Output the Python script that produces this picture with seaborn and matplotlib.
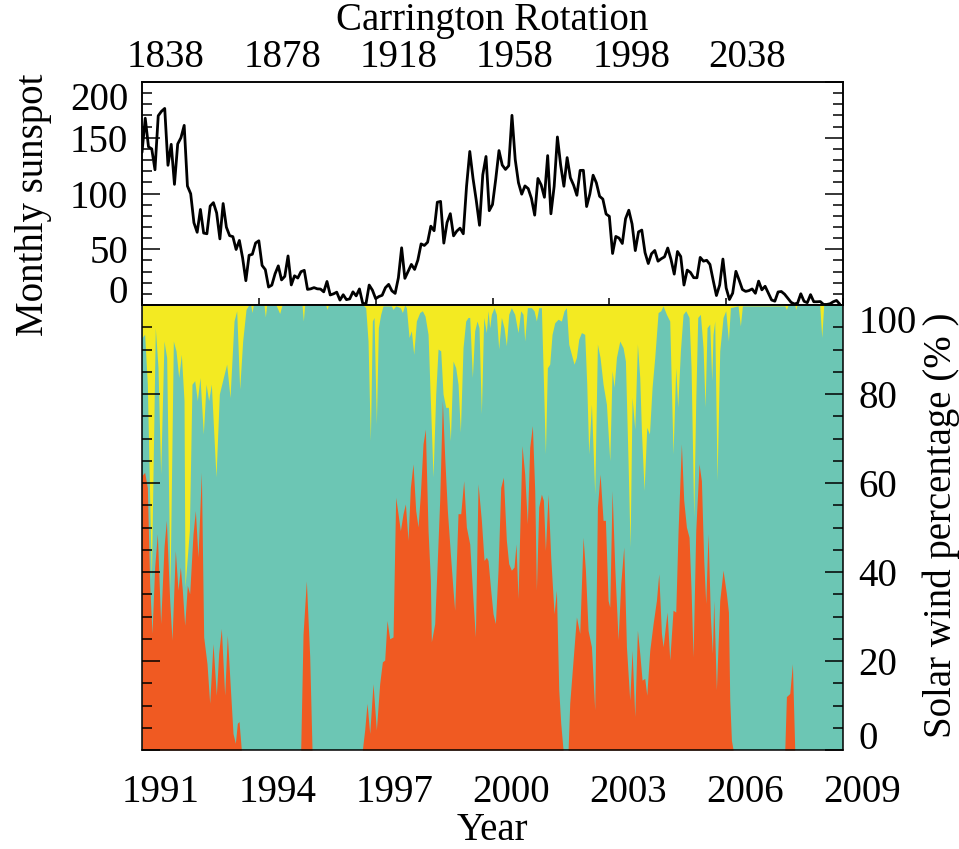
import numpy as np
import pandas as pd
import matplotlib
matplotlib.use("Agg")
import matplotlib.pyplot as plt
import matplotlib.transforms as mtransforms
from matplotlib.ticker import MultipleLocator
import seaborn as sns

# ---------------- data ----------------
# Monthly sunspot number, Jan 1991 .. Dec 2008
ssn_1991 = [136.9, 167.5, 141.9, 140.0, 121.3, 169.7, 173.7, 176.3, 125.3, 144.1, 108.2, 144.4]
ssn_1992 = [150.0, 161.1, 106.7, 99.8, 73.8, 65.2, 85.7, 64.5, 63.9, 88.7, 91.8, 82.6]
ssn_1993 = [59.3, 91.0, 69.8, 62.2, 61.3, 49.8, 57.9, 42.3, 21.8, 44.6, 45.5, 55.6]
ssn_1994 = [57.6, 35.5, 31.7, 16.1, 17.8, 28.0, 35.1, 22.5, 25.7, 44.0, 18.0, 26.2]
ssn_1995 = [24.2, 29.9, 31.1, 14.0, 14.5, 15.6, 14.5, 14.3, 11.8, 21.1, 9.0, 10.0]
ssn_1996 = [11.5, 4.4, 9.2, 4.8, 5.5, 11.8, 8.2, 14.4, 1.6, 0.9, 17.9, 13.3]
ssn_1997 = [5.7, 7.6, 8.7, 15.5, 18.5, 12.7, 10.4, 24.4, 51.3, 23.9, 30.2, 36.4]
ssn_1998 = [31.9, 40.3, 54.8, 53.4, 56.3, 70.7, 66.6, 92.2, 92.9, 55.5, 74.0, 81.9]
ssn_1999 = [62.0, 66.3, 68.9, 63.9, 106.4, 137.7, 113.5, 93.7, 71.5, 116.7, 133.2, 84.6]
ssn_2000 = [90.1, 112.9, 138.5, 125.5, 121.6, 124.9, 170.1, 130.5, 109.7, 99.4, 106.8, 104.4]
ssn_2001 = [95.6, 80.6, 113.5, 107.7, 96.6, 134.0, 81.8, 106.4, 150.7, 125.5, 106.5, 132.2]
ssn_2002 = [114.1, 107.4, 98.4, 120.7, 120.8, 88.3, 99.6, 116.4, 109.6, 97.5, 95.0, 81.6]
ssn_2003 = [79.5, 46.2, 61.5, 60.0, 55.2, 77.4, 85.0, 72.7, 48.8, 65.6, 67.2, 47.0]
ssn_2004 = [37.2, 46.0, 48.9, 39.3, 41.5, 43.2, 51.1, 40.9, 27.7, 48.0, 43.5, 17.9]
ssn_2005 = [31.3, 29.2, 24.5, 24.4, 42.7, 39.3, 40.1, 36.4, 22.1, 8.5, 18.0, 41.2]
ssn_2006 = [15.3, 4.9, 10.6, 30.2, 22.3, 13.9, 12.2, 12.9, 14.4, 10.5, 21.4, 13.6]
ssn_2007 = [16.8, 10.7, 4.5, 3.4, 11.7, 12.1, 9.7, 6.0, 2.4, 0.9, 1.7, 10.1]
ssn_2008 = [3.3, 2.1, 9.3, 2.9, 2.9, 3.1, 0.5, 0.5, 1.1, 2.9, 4.1, 0.8]
ssn_first_year = 1991

# Solar wind percentage: bottom (orange) component, read per vertex
orange_year = [1991.000, 1991.068, 1991.137, 1991.197, 1991.257, 1991.325, 1991.394, 1991.479,
               1991.565, 1991.625, 1991.711, 1991.770, 1991.856, 1991.925, 1991.984, 1992.036,
               1992.096, 1992.164, 1992.224, 1992.310, 1992.370, 1992.438, 1992.524, 1992.584,
               1992.669, 1992.738, 1992.823, 1992.909, 1992.969, 1993.037, 1993.123, 1993.191,
               1993.277, 1993.337, 1993.397, 1993.448, 1993.491, 1993.551,
               1995.075, 1995.135, 1995.220, 1995.306, 1995.366,
               1996.658, 1996.718, 1996.778, 1996.847, 1996.932, 1997.018, 1997.103, 1997.172,
               1997.232, 1997.292, 1997.360, 1997.446, 1997.514, 1997.574, 1997.634, 1997.703,
               1997.763, 1997.831, 1997.891, 1997.959, 1998.028, 1998.088, 1998.148, 1998.216,
               1998.276, 1998.345, 1998.405, 1998.430, 1998.516, 1998.576, 1998.644, 1998.713,
               1998.773, 1998.841, 1998.918, 1998.987, 1999.029, 1999.115, 1999.184, 1999.260,
               1999.329, 1999.415, 1999.500, 1999.560, 1999.629, 1999.714, 1999.783, 1999.843,
               1999.885, 1999.954, 2000.014, 2000.074, 2000.142, 2000.211, 2000.279, 2000.356,
               2000.416, 2000.484, 2000.553, 2000.604, 2000.655, 2000.707, 2000.758, 2000.827,
               2000.895, 2000.955, 2001.024, 2001.084, 2001.127, 2001.187, 2001.255, 2001.307,
               2001.358, 2001.427, 2001.495, 2001.581, 2001.641, 2001.701, 2001.752, 2001.812,
               2001.941, 2001.983, 2002.069, 2002.155, 2002.240, 2002.326, 2002.386, 2002.454,
               2002.540, 2002.625, 2002.694, 2002.762, 2002.839, 2002.899, 2002.968, 2003.011,
               2003.071, 2003.139, 2003.225, 2003.293, 2003.370, 2003.439, 2003.524, 2003.584,
               2003.653, 2003.721, 2003.781, 2003.841, 2003.909, 2003.961, 2004.038, 2004.124,
               2004.209, 2004.269, 2004.338, 2004.380, 2004.482, 2004.551, 2004.636, 2004.705,
               2004.765, 2004.850, 2004.910, 2004.979, 2005.047, 2005.099, 2005.150, 2005.219,
               2005.304, 2005.364, 2005.424, 2005.475, 2005.535, 2005.595, 2005.646, 2005.681,
               2005.749, 2005.835, 2005.920, 2006.006, 2006.058, 2006.092, 2006.135, 2006.178,
               2007.505, 2007.547, 2007.633, 2007.701, 2007.761, 2009.000]
orange_pct = [61.7, 62.4, 59.0, 37.4, 26.2, 41.1, 48.6, 28.4,
              45.6, 51.6, 33.6, 24.7, 44.8, 35.9, 41.1, 35.9,
              28.0, 37.0, 35.1, 48.6, 53.8, 43.3, 62.4, 25.4,
              19.4, 10.5, 23.9, 12.3, 21.7, 27.3, 12.3, 25.8,
              12.7, 3.7, 1.5, 6.0, 6.4, 0.0,
              0.0, 26.0, 38.0, 21.0, 0.0,
              0.0, 4.5, 10.5, 3.7, 14.9, 4.5, 14.9, 19.8,
              20.2, 29.1, 25.0, 25.4, 56.8, 53.1, 49.3, 53.1,
              55.3, 47.1, 59.0, 64.3, 53.8, 50.1, 57.5, 68.8,
              72.1, 49.3, 38.1, 24.3, 28.4, 41.1, 56.1, 78.5,
              65.8, 53.8, 44.1, 35.9, 31.4, 53.1, 53.1, 60.5,
              50.1, 46.3, 33.6, 25.4, 59.8, 51.6, 42.6, 43.3,
              42.6, 35.9, 30.6, 28.4, 40.4, 59.0, 61.3, 47.1,
              41.9, 40.4, 41.1, 46.3, 34.0, 51.6, 68.4, 62.0,
              50.8, 68.0, 72.9, 58.3, 35.9, 54.6, 57.5, 56.1,
              44.8, 57.5, 43.3, 30.6, 35.9, 13.5, 6.0, 0.0,
              0.0, 10.5, 20.2, 29.9, 26.2, 47.8, 40.4, 26.9,
              23.2, 9.0, 54.6, 62.0, 51.6, 51.6, 33.6, 32.1,
              58.3, 41.1, 24.7, 37.4, 45.6, 23.2, 11.2, 22.4,
              7.5, 26.9, 21.7, 15.7, 16.1, 12.3, 22.4, 28.4,
              33.6, 39.6, 26.2, 23.2, 31.0, 20.2, 31.4, 31.0,
              49.3, 68.8, 56.1, 50.1, 47.8, 35.9, 20.9, 49.3,
              64.3, 60.5, 42.6, 32.9, 48.6, 29.9, 21.7, 33.6,
              13.5, 33.6, 40.4, 35.1, 31.0, 11.2, 2.2, 0.0,
              0.0, 12.0, 12.7, 19.4, 0.0, 0.0]

# Solar wind percentage: top (yellow) component, read per vertex
yellow_year = [1991.000, 1991.068, 1991.137, 1991.240, 1991.342, 1991.411, 1991.479, 1991.565,
               1991.633, 1991.719, 1991.805, 1991.873, 1991.942, 1992.010, 1992.079, 1992.104,
               1992.216, 1992.284, 1992.353, 1992.421, 1992.489, 1992.575, 1992.644, 1992.712,
               1992.780, 1992.900, 1992.986, 1993.089, 1993.174, 1993.260, 1993.363, 1993.431,
               1993.508, 1993.585, 1993.671, 1993.739, 1993.791, 1993.825, 1993.859, 1994.133,
               1994.167, 1994.202, 1994.441, 1994.535, 1994.595, 1995.109, 1995.143, 1995.177,
               1995.717, 1995.751, 1995.785,
               1996.675, 1996.744, 1996.804, 1996.864, 1996.915, 1996.958, 1997.018, 1997.069,
               1997.129, 1997.189, 1997.403, 1997.446, 1997.514, 1997.634, 1997.686, 1997.746,
               1997.789, 1997.857, 1997.917, 1997.977, 1998.045, 1998.131, 1998.199, 1998.268,
               1998.345, 1998.405, 1998.473, 1998.542, 1998.602, 1998.670, 1998.730, 1998.799,
               1998.867, 1998.918, 1998.987, 1999.055, 1999.115, 1999.175, 1999.243, 1999.312,
               1999.372, 1999.415, 1999.483, 1999.543, 1999.603, 1999.654, 1999.714, 1999.774,
               1999.843, 1999.885, 1999.928, 1999.971, 2000.040, 2000.099, 2000.159, 2000.228,
               2000.296, 2000.356, 2000.416, 2000.484, 2000.570, 2000.655, 2000.724, 2000.784,
               2000.827, 2000.895, 2000.998, 2001.067, 2001.127, 2001.187, 2001.255, 2001.298,
               2001.358, 2001.409, 2001.469, 2001.529, 2001.598, 2001.683, 2001.769, 2001.837,
               2001.897, 2001.957, 2002.026, 2002.094, 2002.154, 2002.214, 2002.283, 2002.368,
               2002.420, 2002.471, 2002.540, 2002.625, 2002.694, 2002.762, 2002.839, 2002.925,
               2003.011, 2003.071, 2003.122, 2003.182, 2003.268, 2003.353, 2003.413, 2003.482,
               2003.533, 2003.584, 2003.653, 2003.721, 2003.781, 2003.824, 2003.893, 2003.961,
               2004.030, 2004.098, 2004.166, 2004.252, 2004.321, 2004.380, 2004.466, 2004.551,
               2004.636, 2004.705, 2004.756, 2004.825, 2004.893, 2004.962, 2005.047, 2005.099,
               2005.167, 2005.219, 2005.270, 2005.338, 2005.407, 2005.458, 2005.509, 2005.578,
               2005.629, 2005.663, 2005.706, 2005.766, 2005.835, 2005.920, 2005.989, 2006.058,
               2006.109, 2006.305, 2006.365, 2006.417, 2007.505, 2007.547, 2007.590, 2007.761,
               2007.787, 2007.821, 2008.403, 2008.454, 2008.505, 2009.000]
yellow_pct = [7.3, 6.6, 17.8, 61.9, 5.1, 14.1, 38.0, 8.1,
              11.8, 64.0, 8.1, 10.3, 16.3, 11.1, 21.5, 63.4,
              50.7, 17.8, 17.0, 21.5, 16.3, 29.0, 17.8, 21.5,
              17.8, 38.7, 20.0, 16.3, 13.3, 20.8, 3.6, 1.3,
              18.9, 8.1, 1.0, 0.0, 0.0, 1.7, 0.0, 0.0,
              2.7, 0.0, 0.0, 1.9, 0.0, 0.0, 3.6, 0.0,
              0.0, 1.0, 0.0,
              0.0, 0.6, 8.1, 30.5, 3.6, 2.8, 26.8, 5.1,
              2.1, 0.2, 0.2, 1.0, 0.2, 0.6, 1.7, 0.0,
              0.6, 7.3, 5.8, 11.1, 3.6, 1.7, 1.3, 2.5,
              6.6, 21.5, 38.7, 20.0, 9.9, 10.3, 20.0, 23.0,
              23.0, 30.5, 12.6, 14.1, 17.8, 28.6, 9.6, 3.6,
              2.8, 2.8, 16.3, 5.8, 3.6, 5.1, 24.5, 2.8,
              6.2, 1.3, 5.1, 2.1, 0.6, 2.1, 9.9, 2.8,
              5.1, 9.2, 2.1, 0.6, 2.1, 6.2, 1.3, 2.1,
              8.1, 0.6, 0.6, 1.3, 3.6, 0.6, 0.6, 14.1,
              33.5, 14.1, 13.3, 6.6, 4.0, 3.2, 3.6, 1.3,
              0.6, 8.8, 11.1, 13.3, 11.8, 7.7, 6.2, 6.6,
              17.8, 33.5, 22.3, 42.5, 8.8, 11.8, 17.8, 22.3,
              35.0, 14.8, 18.5, 11.8, 8.1, 9.6, 12.6, 35.7,
              54.4, 20.8, 27.9, 8.8, 16.3, 28.3, 41.7, 27.5,
              29.0, 18.5, 11.8, 1.7, 1.3, 0.2, 2.1, 3.6,
              33.5, 14.1, 23.0, 10.3, 2.1, 1.3, 2.8, 14.1,
              47.7, 21.5, 2.8, 2.1, 9.6, 23.0, 5.1, 4.3,
              17.0, 6.6, 3.6, 39.5, 10.3, 2.8, 1.3, 8.1,
              0.6, 0.2, 4.7, 0.2, 0.2, 1.0, 0.0, 0.0,
              1.0, 0.0, 0.0, 7.3, 0.0, 0.0]

year_ticks = [1991, 1994, 1997, 2000, 2003, 2006, 2009]
cr_ticks = [1838, 1878, 1918, 1958, 1998, 2038]
ssn_ticks = [0, 50, 100, 150, 200]
pct_ticks = [0, 20, 40, 60, 80, 100]

# Carrington rotation <-> decimal year (CR 2000 began 2003 Feb 4; 27.2753 d per rotation)
CR_REF, CR_REF_YEAR, CR_LEN_YR = 2000, 2003.094, 27.2753 / 365.25
def year_to_cr(y):
    return CR_REF + (np.asarray(y) - CR_REF_YEAR) / CR_LEN_YR

ssn = (ssn_1991 + ssn_1992 + ssn_1993 + ssn_1994 + ssn_1995 + ssn_1996 + ssn_1997 + ssn_1998 +
       ssn_1999 + ssn_2000 + ssn_2001 + ssn_2002 + ssn_2003 + ssn_2004 + ssn_2005 + ssn_2006 +
       ssn_2007 + ssn_2008)
ssn_df = pd.DataFrame({"year": ssn_first_year + np.arange(len(ssn)) / 12.0, "ssn": ssn})

# ---------------- style ----------------
sns.set_style("ticks")
plt.rcParams['font.family'] = ['Liberation Serif', 'DejaVu Serif']
plt.rcParams['font.size'] = 28
plt.rcParams['axes.linewidth'] = 1.1
for key in ['text.color', 'axes.labelcolor', 'xtick.color', 'ytick.color',
            'axes.edgecolor', 'xtick.labelcolor', 'ytick.labelcolor']:
    plt.rcParams[key] = 'black'

ORANGE = '#F05A22'
TEAL = '#6CC6B4'
YELLOW = '#F3EA22'

W, H = 959, 849
fig = plt.figure(figsize=(W / 100, H / 100), dpi=100)

def rect(x0, y0, x1, y1):
    return [x0 / W, 1 - y1 / H, (x1 - x0) / W, (y1 - y0) / H]

ax1 = fig.add_axes(rect(142, 82, 843, 305))
ax2 = fig.add_axes(rect(142, 305, 843, 750))

def shift_text(texts, dx_px=0, dy_px=0):
    off = mtransforms.ScaledTranslation(dx_px / 100, dy_px / 100, fig.dpi_scale_trans)
    for t in texts:
        t.set_transform(t.get_transform() + off)

# ---------------- top panel: sunspot ----------------
sns.lineplot(data=ssn_df, x="year", y="ssn", ax=ax1, color='black', lw=2.0)
ax1.set_xlim(year_ticks[0], year_ticks[-1])
ax1.set_ylim(ssn_ticks[0], ssn_ticks[-1])
ax1.set_xlabel("")
ax1.set_ylabel("Monthly sunspot", fontsize=28)
ax1.yaxis.set_label_coords(-0.155, 0.45)
ax1.yaxis.label.set_va('center')
ax1.set_yticks(ssn_ticks)
ax1.yaxis.set_minor_locator(MultipleLocator(10))
ax1.set_xticks(year_ticks)
ax1.tick_params(axis='x', which='major', direction='in', top=True, bottom=True,
                length=5, width=1.1, labelbottom=False, labeltop=False)
ax1.tick_params(axis='y', which='major', direction='in', left=True, right=True,
                length=13, width=1.1, labelsize=28, pad=10)
ax1.tick_params(axis='y', which='minor', direction='in', left=True, right=True,
                length=7, width=1.1)
for sp in ax1.spines.values():
    sp.set_visible(True)
    sp.set_linewidth(1.1)

# top axis: Carrington rotation
axcr = ax1.twiny()
axcr.set_xlim(year_to_cr(year_ticks[0]), year_to_cr(year_ticks[-1]))
axcr.set_xticks(cr_ticks)
axcr.set_xticklabels([str(c) for c in cr_ticks])
axcr.tick_params(axis='x', which='both', length=0, labelsize=28, pad=4,
                 top=True, bottom=False, labeltop=True, labelbottom=False)
axcr.set_xlabel("Carrington Rotation", fontsize=28)
axcr.xaxis.set_label_coords(0.5, 1.275)
axcr.xaxis.label.set_va('center')

# ---------------- bottom panel: solar wind percentage ----------------
ax2.set_facecolor(TEAL)
ax2.fill_between(orange_year, 0, orange_pct, color=ORANGE, lw=0)
ax2.fill_between(yellow_year, 100 - np.asarray(yellow_pct), 100, color=YELLOW, lw=0)
ax2.set_xlim(year_ticks[0], year_ticks[-1])
ax2.set_ylim(pct_ticks[0], pct_ticks[-1])
ax2.set_xticks(year_ticks)
ax2.set_xticklabels([str(y) for y in year_ticks])
ax2.set_yticks(pct_ticks)
ax2.yaxis.set_minor_locator(MultipleLocator(5))
ax2.tick_params(axis='x', which='both', length=0, labelsize=28, pad=17.5)
ax2.tick_params(axis='y', which='major', direction='in', left=True, right=True,
                length=13, width=1.1, labelleft=False, labelright=True, labelsize=28, pad=11)
ax2.tick_params(axis='y', which='minor', direction='in', left=True, right=True,
                length=7, width=1.1)
ax2.set_xlabel("Year", fontsize=28)
ax2.xaxis.set_label_coords(0.5, -0.182)
ax2.xaxis.label.set_va('center')
ax2.yaxis.set_label_position('right')
ax2.set_ylabel("Solar wind percentage (% )", fontsize=28, rotation=90)
ax2.yaxis.set_label_coords(1.14, 0.505)
ax2.yaxis.label.set_va('center')
for sp in ax2.spines.values():
    sp.set_visible(True)
    sp.set_linewidth(1.1)
ax2.set_axisbelow(False)

# IDL-style label placement: end labels pulled inside, x labels offset
t1 = ax1.yaxis.get_major_ticks()
t1[0].label1.set_va('baseline')
t1[-1].label1.set_va('top')
t2 = ax2.yaxis.get_major_ticks()
t2[0].label2.set_va('baseline')
t2[-1].label2.set_va('top')
shift_text([t1[0].label1], dy_px=2)
shift_text([t2[0].label2], dy_px=1)
shift_text([t.label1 for t in ax2.xaxis.get_major_ticks()], dx_px=19)
shift_text([t.label2 for t in axcr.xaxis.get_major_ticks()], dx_px=24)

fig.savefig("out.png", dpi=100)
